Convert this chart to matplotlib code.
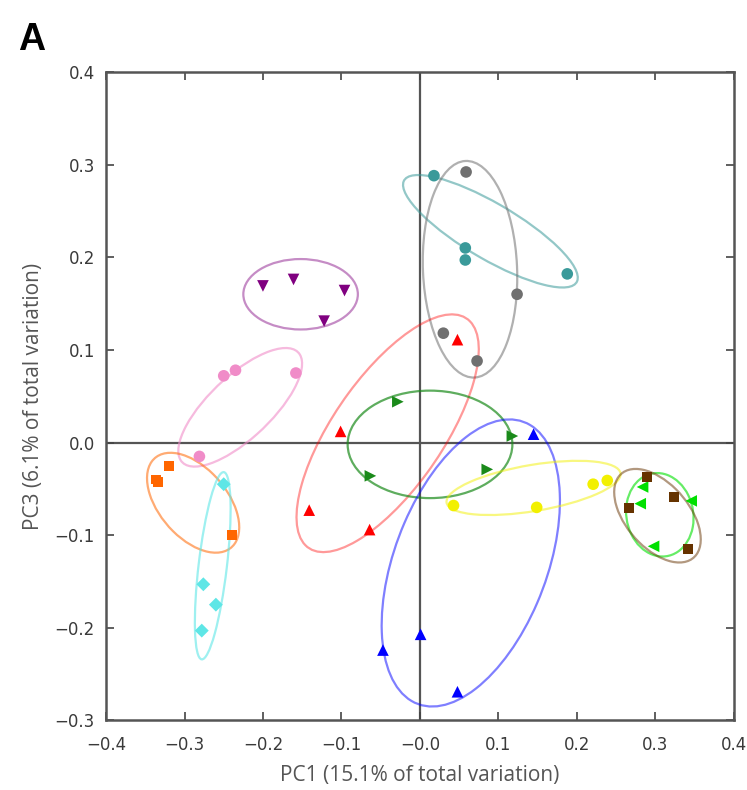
import numpy as np
import matplotlib
matplotlib.use("Agg")
import matplotlib.pyplot as plt
from matplotlib.patches import Ellipse

# point coordinates per group (PC1, PC3)
teal_x = [0.018, 0.058, 0.058, 0.188]
teal_y = [0.288, 0.210, 0.197, 0.182]
gray_x = [0.059, 0.124, 0.030, 0.073]
gray_y = [0.292, 0.160, 0.118, 0.088]
red_x = [0.048, -0.101, -0.141, -0.064]
red_y = [0.111, 0.012, -0.073, -0.094]
green_x = [-0.028, 0.118, -0.063, 0.086]
green_y = [0.044, 0.007, -0.036, -0.029]
blue_x = [0.145, 0.001, -0.047, 0.048]
blue_y = [0.009, -0.207, -0.224, -0.269]
yellow_x = [0.043, 0.149, 0.221, 0.239]
yellow_y = [-0.068, -0.070, -0.045, -0.041]
purple_x = [-0.200, -0.161, -0.096, -0.122]
purple_y = [0.169, 0.176, 0.164, 0.131]
pink_x = [-0.250, -0.235, -0.158, -0.281]
pink_y = [0.072, 0.078, 0.075, -0.015]
orange_x = [-0.320, -0.336, -0.334, -0.239]
orange_y = [-0.025, -0.040, -0.043, -0.100]
cyan_x = [-0.250, -0.276, -0.260, -0.278]
cyan_y = [-0.045, -0.153, -0.175, -0.203]
lime_x = [0.284, 0.281, 0.346, 0.298]
lime_y = [-0.048, -0.066, -0.063, -0.112]
brown_x = [0.290, 0.267, 0.324, 0.342]
brown_y = [-0.037, -0.071, -0.059, -0.115]

# ellipse (centre x, centre y, semi-major, semi-minor, angle deg)
teal_ell = (0.090, 0.228, 0.123, 0.031, -26)
gray_ell = (0.064, 0.187, 0.117, 0.060, 93)
red_ell = (-0.041, 0.010, 0.160, 0.066, 49)
green_ell = (0.013, -0.002, 0.105, 0.058, 0)
blue_ell = (0.065, -0.130, 0.167, 0.095, 63)
yellow_ell = (0.145, -0.049, 0.112, 0.025, 8)
purple_ell = (-0.152, 0.160, 0.073, 0.038, 0)
pink_ell = (-0.229, 0.038, 0.095, 0.036, 37)
orange_ell = (-0.289, -0.065, 0.069, 0.040, -40)
cyan_ell = (-0.264, -0.133, 0.102, 0.018, 82)
lime_ell = (0.306, -0.078, 0.046, 0.042, -60)
brown_ell = (0.303, -0.079, 0.065, 0.037, -40)

groups = [
    (teal_x, teal_y, teal_ell, "o", "#3a9a9a", 0.55),
    (gray_x, gray_y, gray_ell, "o", "#707070", 0.55),
    (red_x, red_y, red_ell, "^", "#ff0000", 0.4),
    (green_x, green_y, green_ell, ">", "#1a8a1a", 0.7),
    (blue_x, blue_y, blue_ell, "^", "#0000ff", 0.5),
    (yellow_x, yellow_y, yellow_ell, "o", "#f2f000", 0.5),
    (purple_x, purple_y, purple_ell, "v", "#800080", 0.45),
    (pink_x, pink_y, pink_ell, "o", "#f08cc8", 0.6),
    (orange_x, orange_y, orange_ell, "s", "#ff6600", 0.55),
    (cyan_x, cyan_y, cyan_ell, "D", "#5ee6e6", 0.6),
    (lime_x, lime_y, lime_ell, "<", "#00e000", 0.6),
    (brown_x, brown_y, brown_ell, "s", "#663300", 0.5),
]

fig = plt.figure(figsize=(7.47, 7.90), dpi=100)
ax = fig.add_axes([0.142, 0.088, 0.840, 0.821])

ax.axhline(0, color="#555555", lw=1.6, zorder=1)
ax.axvline(0, color="#555555", lw=1.6, zorder=1)

for xs, ys, ell, mk, col, al in groups:
    cx, cy, a, b, ang = ell
    ax.add_patch(Ellipse((cx, cy), 2 * a, 2 * b, angle=ang, fill=False,
                         edgecolor=col, alpha=al, lw=1.6, zorder=2))
    ms = 50 if mk in ("s", "D") else 70
    ax.scatter(xs, ys, marker=mk, s=ms, color=col, edgecolors="none", zorder=3)

ax.set_xlim(-0.4, 0.4)
ax.set_ylim(-0.3, 0.4)
ax.set_xticks(np.arange(-0.4, 0.41, 0.1))
ax.set_yticks(np.arange(-0.3, 0.41, 0.1))
fmt = matplotlib.ticker.FuncFormatter(lambda v, p: ("%.1f" % v).replace("-", "\u2212"))
ax.xaxis.set_major_formatter(fmt)
ax.yaxis.set_major_formatter(fmt)
ax.tick_params(direction="in", top=True, right=True, length=6, width=1.2,
               color="#444444", labelcolor="#3a3a3a", labelsize=12)
ax.tick_params(axis="x", pad=11)
ax.tick_params(axis="y", pad=8)
for sp in ax.spines.values():
    sp.set_color("#555555")
    sp.set_linewidth(1.8)

ax.set_xlabel("PC1 (15.1% of total variation)", fontsize=15, color="#555555",
              family="Open Sans", labelpad=8)
ax.set_ylabel("PC3 (6.1% of total variation)", fontsize=15, color="#555555",
              family="Open Sans", labelpad=8)

fig.text(0.024, 0.937, "A", fontsize=27, fontweight="bold", family="Liberation Sans")

fig.savefig("out.png", dpi=100)
